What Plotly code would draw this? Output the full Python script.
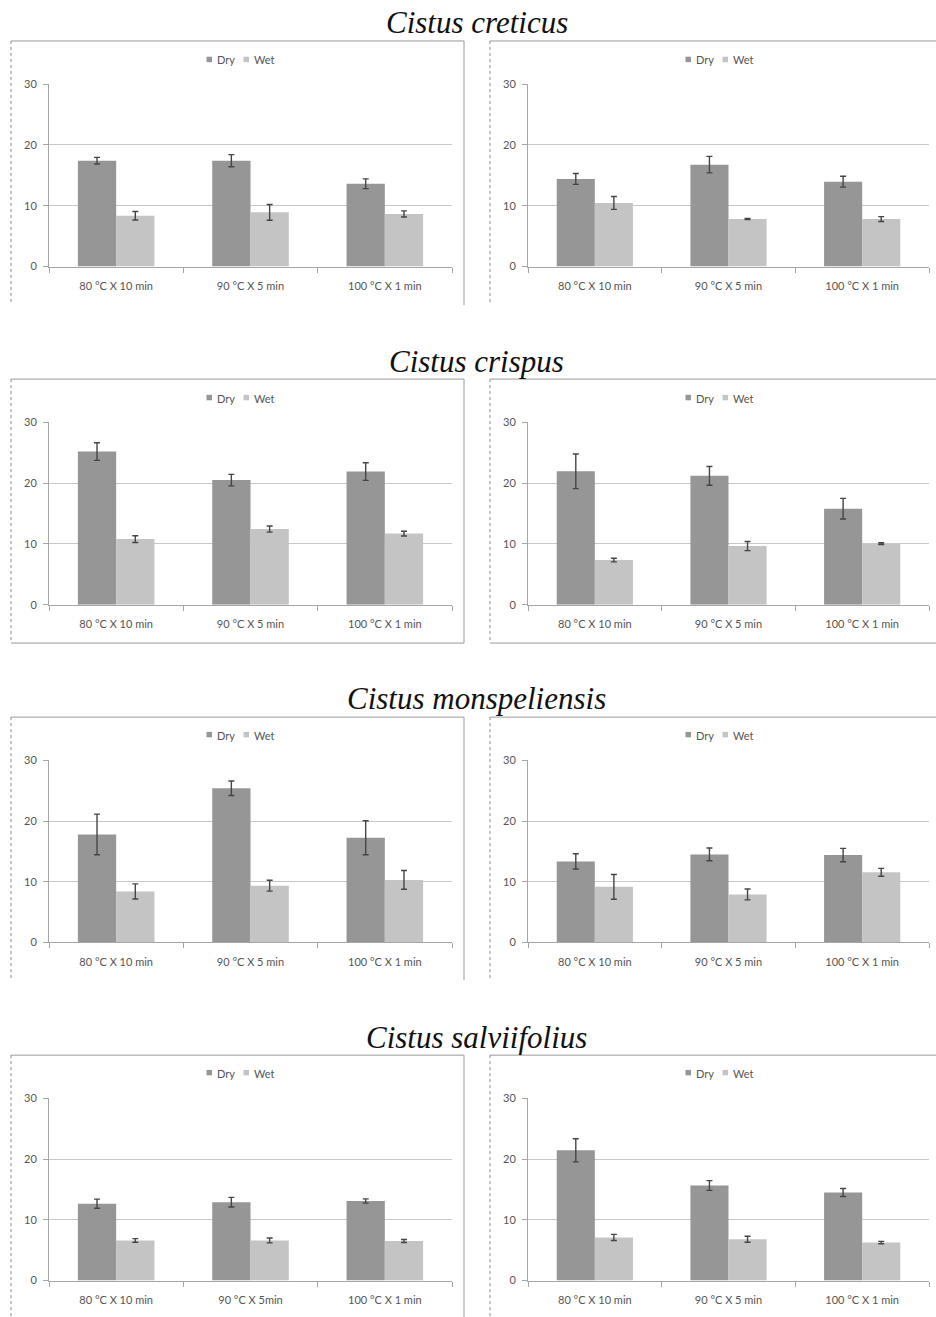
import plotly.graph_objects as go

W, H = 936, 1317

species = ["Cistus creticus", "Cistus crispus", "Cistus monspeliensis", "Cistus salviifolius"]
treatments = ["80 °C X 10 min", "90 °C X 5 min", "100 °C X 1 min"]
treatments_alt = ["80 °C X 10 min", "90 °C X 5min", "100 °C X 1 min"]
series_names = ["Dry", "Wet"]

# Values per panel (species, left/right)
creticus_l_dry = [17.4, 17.4, 13.6]
creticus_l_dry_err = [0.55, 1.0, 0.8]
creticus_l_wet = [8.35, 8.9, 8.65]
creticus_l_wet_err = [0.7, 1.3, 0.5]

creticus_r_dry = [14.4, 16.75, 13.95]
creticus_r_dry_err = [0.9, 1.35, 0.9]
creticus_r_wet = [10.45, 7.8, 7.8]
creticus_r_wet_err = [1.05, 0.1, 0.4]

crispus_l_dry = [25.2, 20.5, 21.9]
crispus_l_dry_err = [1.45, 0.95, 1.45]
crispus_l_wet = [10.8, 12.45, 11.7]
crispus_l_wet_err = [0.55, 0.5, 0.4]

crispus_r_dry = [21.95, 21.2, 15.8]
crispus_r_dry_err = [2.85, 1.55, 1.7]
crispus_r_wet = [7.35, 9.65, 10.05]
crispus_r_wet_err = [0.3, 0.75, 0.15]

monsp_l_dry = [17.8, 25.4, 17.25]
monsp_l_dry_err = [3.35, 1.2, 2.8]
monsp_l_wet = [8.4, 9.35, 10.3]
monsp_l_wet_err = [1.25, 0.9, 1.55]

monsp_r_dry = [13.35, 14.5, 14.4]
monsp_r_dry_err = [1.25, 1.05, 1.1]
monsp_r_wet = [9.15, 7.9, 11.55]
monsp_r_wet_err = [2.05, 0.9, 0.65]

salv_l_dry = [12.65, 12.9, 13.1]
salv_l_dry_err = [0.75, 0.8, 0.35]
salv_l_wet = [6.6, 6.6, 6.5]
salv_l_wet_err = [0.3, 0.4, 0.25]

salv_r_dry = [21.45, 15.65, 14.5]
salv_r_dry_err = [1.9, 0.8, 0.65]
salv_r_wet = [7.1, 6.8, 6.25]
salv_r_wet_err = [0.5, 0.5, 0.2]

panels = [
    (treatments, creticus_l_dry, creticus_l_dry_err, creticus_l_wet, creticus_l_wet_err),
    (treatments, creticus_r_dry, creticus_r_dry_err, creticus_r_wet, creticus_r_wet_err),
    (treatments, crispus_l_dry, crispus_l_dry_err, crispus_l_wet, crispus_l_wet_err),
    (treatments, crispus_r_dry, crispus_r_dry_err, crispus_r_wet, crispus_r_wet_err),
    (treatments, monsp_l_dry, monsp_l_dry_err, monsp_l_wet, monsp_l_wet_err),
    (treatments, monsp_r_dry, monsp_r_dry_err, monsp_r_wet, monsp_r_wet_err),
    (treatments_alt, salv_l_dry, salv_l_dry_err, salv_l_wet, salv_l_wet_err),
    (treatments, salv_r_dry, salv_r_dry_err, salv_r_wet, salv_r_wet_err),
]

COLORS = ["#969696", "#c4c4c4"]
ERR = "#454545"
TXT = "#555555"
AXIS = "#a6a6a6"
GRID = "#c8c8c8"
FONT = "Lato, 'Open Sans', sans-serif"

# page geometry (pixels from top-left)
col_x = [(49, 452), (528, 929)]
row_y = [(77.8, 262.1), (419.5, 603.7), (760.9, 944.7), (1102.3, 1286.2)]
frame_x = [(11, 464), (490, 940)]
frame_top = [34.3, 375.8, 717.2, 1058.6]
frame_bot = [301, 642.4, 982.8, 1325]
frame_bot_line = [False, True, False, False]
title_y = [15.2, 357.6, 698, 1040.4]
key_y = [53.5, 395, 735.4, 1076.8]
key_box_x = [(206.5, 212), (243.5, 249)]   # colour keys, left column
key_text_x = [214.5, 251.5]
col_shift = [0, 479]


def py(v):
    return 1 - v / H


def px(v):
    return v / W


fig = go.Figure()
layout = dict(
    width=W, height=H, margin=dict(l=0, r=0, t=0, b=0),
    paper_bgcolor="white", plot_bgcolor="white",
    barmode="group", bargap=0.43, bargroupgap=0,
    font=dict(family=FONT, size=11, color=TXT),
    showlegend=False,
)
shapes = []
annotations = []

for i, (cats, dry, dry_e, wet, wet_e) in enumerate(panels):
    r, c = divmod(i, 2)
    sfx = "" if i == 0 else str(i + 1)
    xa, ya = "x" + sfx, "y" + sfx
    for k, (name, vals, errs, col) in enumerate(zip(series_names, (dry, wet), (dry_e, wet_e), COLORS)):
        fig.add_trace(go.Bar(
            x=cats, y=vals, name=name, marker=dict(color=col, line=dict(width=0)),
            error_y=dict(type="data", array=errs, color=ERR, thickness=1.4, width=3),
            xaxis=xa, yaxis=ya,
        ))
        # series key above the plot: colour square + name
        bx0, bx1 = key_box_x[k]
        sh = col_shift[c]
        ky = key_y[r]
        shapes.append(dict(type="rect", xref="paper", yref="paper",
                           x0=px(bx0 + sh), x1=px(bx1 + sh),
                           y0=py(ky + 2.2), y1=py(ky - 3.3),
                           fillcolor=col, line=dict(width=0)))
        annotations.append(dict(
            text=name, xref="paper", yref="paper",
            x=px(key_text_x[k] + sh), y=py(ky), xanchor="left", yanchor="middle",
            showarrow=False, font=dict(family=FONT, size=11, color=TXT),
        ))
    x0, x1 = col_x[c]
    ytop, ybot = row_y[r]
    layout["xaxis" + sfx] = dict(
        domain=[px(x0), px(x1)], anchor=ya, type="category",
        showline=True, linecolor=AXIS, linewidth=1,
        ticks="outside", tickson="boundaries", ticklen=5, tickcolor=AXIS,
        tickfont=dict(family=FONT, size=11, color=TXT), ticklabelstandoff=9,
        showgrid=False, fixedrange=True,
    )
    layout["yaxis" + sfx] = dict(
        domain=[py(ybot), py(ytop)], anchor=xa, range=[0, 30],
        tickvals=[0, 10, 20, 30],
        showline=True, linecolor=AXIS, linewidth=1,
        ticks="outside", ticklen=5, tickcolor=AXIS,
        tickfont=dict(family=FONT, size=11, color=TXT), ticklabelstandoff=4,
        showgrid=True, gridcolor=GRID, gridwidth=1, zeroline=False, fixedrange=True,
    )

    # panel frame
    fx0, fx1 = frame_x[c]
    ft, fb = frame_top[r], frame_bot[r]
    line = dict(color="#9a9a9a", width=1)
    shapes.append(dict(type="line", xref="paper", yref="paper",
                       x0=px(fx0), x1=px(fx0), y0=py(ft), y1=py(fb),
                       line=dict(color="#8a8a8a", width=1, dash="dot")))
    shapes.append(dict(type="line", xref="paper", yref="paper",
                       x0=px(fx0), x1=px(fx1), y0=py(ft), y1=py(ft), line=line))
    shapes.append(dict(type="line", xref="paper", yref="paper",
                       x0=px(fx1), x1=px(fx1), y0=py(ft), y1=py(fb), line=line))
    if frame_bot_line[r]:
        shapes.append(dict(type="line", xref="paper", yref="paper",
                           x0=px(fx0), x1=px(fx1), y0=py(fb), y1=py(fb), line=line))

for r, name in enumerate(species):
    annotations.append(dict(
        text="<i>" + name + "</i>", xref="paper", yref="paper",
        x=px(477), y=py(title_y[r]), xanchor="center", yanchor="middle",
        showarrow=False,
        font=dict(family="Liberation Serif, 'Times New Roman', serif", size=31, color="#111111"),
    ))

layout["shapes"] = shapes
layout["annotations"] = annotations
fig.update_layout(**layout)
fig.write_html("out.html")
